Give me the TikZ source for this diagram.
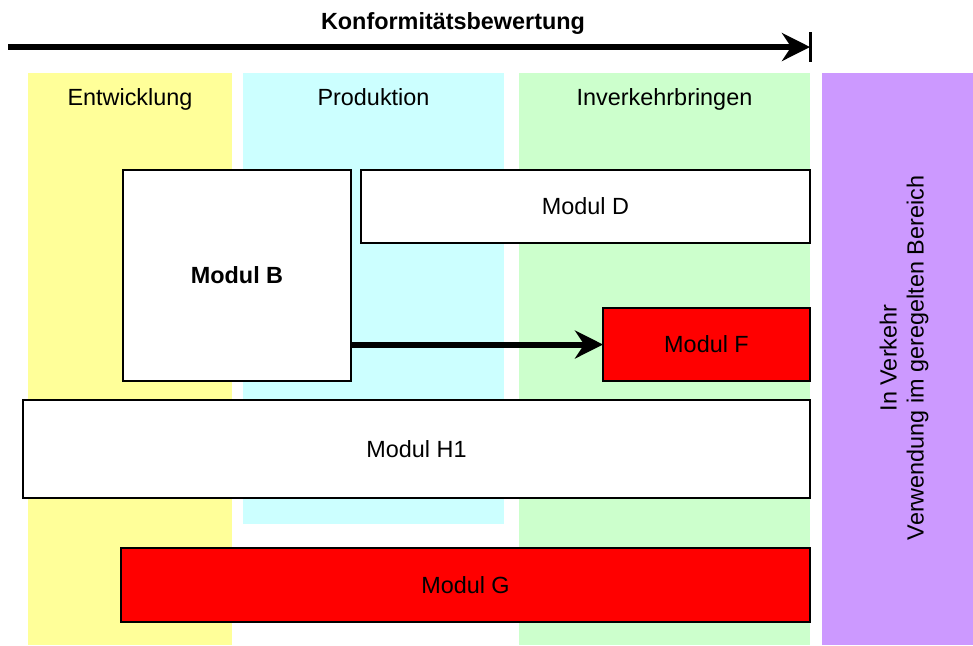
\documentclass[tikz,border=0pt]{standalone}
\usepackage{fontspec}
\setmainfont{Liberation Sans}
\usetikzlibrary{arrows.meta}
\definecolor{gelb}{HTML}{FFFF99}
\definecolor{tuerkis}{HTML}{CCFFFF}
\definecolor{gruen}{HTML}{CCFFCC}
\definecolor{lila}{HTML}{CC99FF}
\definecolor{rot}{HTML}{FF0000}
\begin{document}
\begin{tikzpicture}[x=0.5pt,y=-0.5pt,font=\fontsize{11.7}{13.5}\selectfont]
\tikzstyle{every node}=[inner sep=0pt,outer sep=0pt]
\tikzstyle{spalte}=[anchor=base]
\tikzstyle{modul}=[draw,line width=1.3pt,fill=white,rectangle,anchor=north west]
\tikzstyle{modulrot}=[modul,fill=rot]
\tikzstyle{pfeil}=[line width=3pt,-{Stealth[length=14pt,width=14pt]}]
\useasboundingbox (0,0) rectangle (973,645);
% Spalten
\fill[gelb] (28,73) rectangle (232,645);
\fill[tuerkis] (243,73) rectangle (504,524);
\fill[gruen] (519,73) rectangle (810,645);
\fill[lila] (822,73) rectangle (973,645);
\node[spalte] (entw) at (130,105) {Entwicklung};
\node[spalte] (prod) at (373.5,105) {Produktion};
\node[spalte] (inv) at (664.5,105) {Inverkehrbringen};
\node[rotate=90,align=center] (verkehr) at (904,358) {In Verkehr\\Verwendung im geregelten Bereich};
% Konformitaetsbewertung
\node[spalte] (titel) at (453,29) {\textbf{Konformitätsbewertung}};
\coordinate (start) at (8,47);
\coordinate (ende) at (810,47);
\draw[pfeil] (start) -- (ende);
\draw[line width=1.5pt] ([yshift=7.5pt]ende) -- ([yshift=-7.5pt]ende);
% Module
\node[modul,minimum width=114pt,minimum height=105.5pt] (B) at (123,170) {\textbf{Modul B}};
\node[modul,minimum width=224.5pt,minimum height=36.5pt] (D) at (361,170) {Modul D};
\node[modulrot,minimum width=103.5pt,minimum height=36.5pt] (F) at (603,308) {Modul F};
\node[modul,minimum width=393.5pt,minimum height=49pt] (H1) at (23,400) {Modul H1};
\node[modulrot,minimum width=344.5pt,minimum height=37pt] (G) at (121,548) {Modul G};
\draw[pfeil] (F.west -| B.east) -- (F.west);
\end{tikzpicture}
\end{document}
